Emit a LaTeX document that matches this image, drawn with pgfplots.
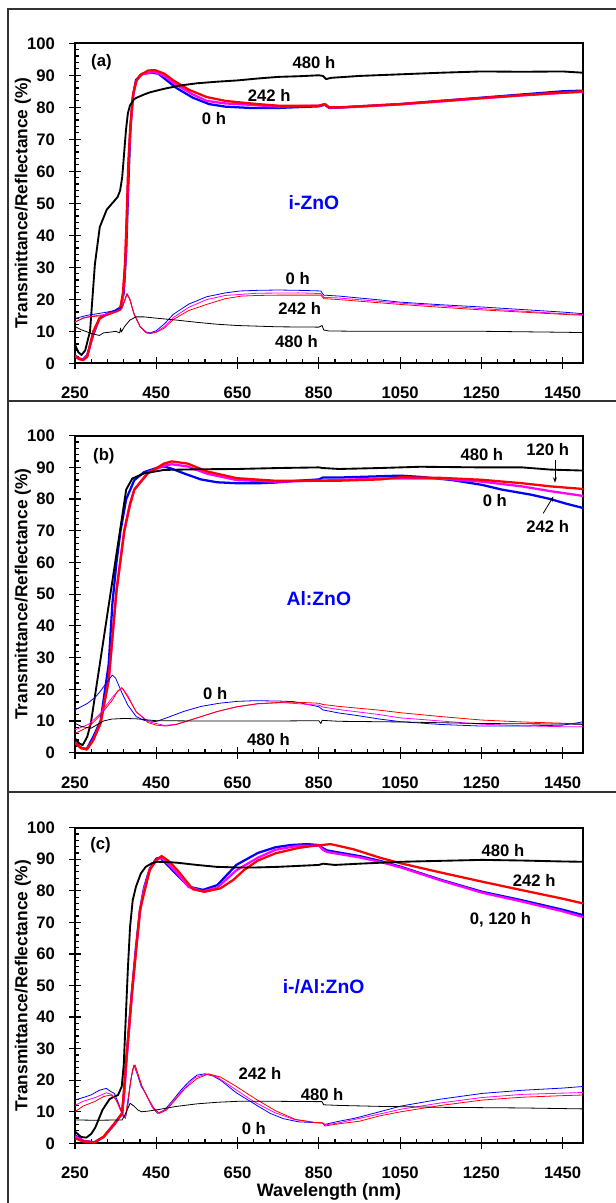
\documentclass[border=0pt]{standalone}
\usepackage{fontspec}
\setmainfont{Liberation Sans}
\usepackage{pgfplots}
\pgfplotsset{compat=1.18}
\usetikzlibrary{arrows.meta}
\definecolor{cB}{RGB}{0,0,255}
\definecolor{cM}{RGB}{255,0,255}
\definecolor{cR}{RGB}{255,0,0}
\pgfplotsset{
 panel/.style={
  scale only axis, width=381pt,
  xmin=250,xmax=1500,ymin=0,ymax=100,
  xtick={250,450,...,1450}, ytick={0,10,...,100},
  minor x tick num=4, minor y tick num=4,
  xtick pos=left, ytick pos=left,
  tick align=inside, major tick length=4.5pt, minor tick length=3pt,
  every tick/.style={black, line width=0.9pt},
  axis line style={line width=1.3pt},
  extra x ticks={250,450,650,850,1050,1250,1450}, extra x tick labels={},
  extra x tick style={tick align=outside},
  extra y ticks={0,10,20,30,40,50,60,70,80,90,100}, extra y tick labels={},
  extra y tick style={tick align=outside},
  ticklabel style={font=\bfseries\fontsize{12.5}{12.5}\selectfont},
  /pgf/number format/assume math mode=true,
  /pgf/number format/1000 sep={},
  xticklabel style={yshift=-14.5pt},
  yticklabel style={xshift=-11.5pt},
  ylabel={Transmittance/Reflectance (\%)},
  ylabel style={font=\bfseries\fontsize{13}{13}\selectfont, at={(axis description cs:-0.1024,0.5)}, anchor=center},
  every axis plot/.append style={no marks, line join=round},
 },
 Tb/.style={cB, line width=1.7pt},
 Tm/.style={cM, line width=1.7pt},
 Tr/.style={cR, line width=1.7pt},
 Tk/.style={black, line width=1.4pt},
 Rb/.style={cB, line width=0.6pt},
 Rm/.style={cM, line width=0.6pt},
 Rr/.style={cR, line width=0.6pt},
 Rk/.style={black, line width=0.6pt},
}
\tikzset{lab/.style={font=\bfseries\fontsize{12.5}{12.5}\selectfont, inner sep=0pt},
 mat/.style={font=\bfseries\fontsize{14.5}{14.5}\selectfont, text=cB, inner sep=0pt}}
\begin{document}
\begin{tikzpicture}
\useasboundingbox (0,0) rectangle (462pt,902.25pt);
\draw[black!80, line width=0.9pt] (6pt,601.5pt) rectangle (475pt,895.5pt);
\draw[black!80, line width=0.9pt] (6pt,308.25pt) rectangle (475pt,601.5pt);
\draw[black!80, line width=0.9pt] (6pt,-10pt) rectangle (475pt,308.25pt);

% ---------------- (a) ----------------
\begin{axis}[panel, height=240pt, at={(56.25pt,629.775pt)}, anchor=south west]
\addplot[Tb] coordinates {(250,2.5)(260,1.5)(270,1.2)(280,2.5)(295,9)(310,14)(330,15.5)(350,16.5)(362,17.5)(370,22)(376,35)(381,55)(386,72)(392,83)(400,88.5)(415,90.5)(440,90.8)(455,90.5)(475,88.5)(500,86)(540,83)(580,81)(620,80.2)(680,79.8)(750,79.8)(850,80.3)(865,80.8)(875,79.8)(900,79.9)(950,80.3)(1050,81)(1150,82)(1250,83)(1350,84)(1450,85)(1500,85.2)};
\addplot[Tm] coordinates {(250,2.3)(260,1.4)(270,1.1)(280,2.2)(295,9.5)(311,14.1)(328,15.2)(350,16.2)(361,16.9)(368,21)(374,32)(378,47)(382,63)(387,75)(394,84.5)(402,88.5)(415,90.3)(445,91.1)(470,89.8)(500,87)(540,84)(574,82)(620,81.2)(650,81)(750,80.2)(850,80.5)(865,81)(875,79.9)(900,79.9)(950,80.2)(1050,80.9)(1150,81.8)(1250,82.8)(1350,83.7)(1450,84.5)(1500,84.8)};
\addplot[Tr] coordinates {(250,2.2)(260,1.3)(270,1.0)(280,2)(295,10)(311,14.2)(328,15.3)(350,16.2)(361,16.8)(368,22)(373,31)(377,45)(381,62)(386,74)(393,84)(400,88)(410,90)(430,91.5)(447,91.6)(470,90.5)(492,88.4)(530,85.5)(574,83.2)(620,82)(650,81.6)(700,81)(750,80.5)(850,80.5)(865,81)(875,80)(900,80)(950,80.3)(1050,81)(1150,82)(1250,82.9)(1350,83.8)(1450,84.6)(1500,85)};
\addplot[Tk] coordinates {(250,5.8)(258,3.5)(266,2.6)(275,4)(287,10)(299,31)(311,42.6)(328,48)(345,50.5)(355,52)(361,54)(366,58)(369,62.6)(375.5,73)(380,78)(385,80.5)(395,82.5)(402,83)(420,84)(435,84.7)(470,85.8)(508,86.8)(550,87.5)(600,88)(650,88.4)(700,89)(750,89.5)(800,89.7)(850,90)(860,89.8)(868,88.8)(880,89.2)(950,89.8)(1050,90.3)(1150,90.8)(1250,91.2)(1350,91.1)(1450,91.2)(1500,90.8)};
\addplot[Rb] coordinates {(250,14)(280,15)(320,15.8)(350,16.5)(365,17.5)(372,19.5)(378,21.8)(385,20)(395,15.5)(410,11.5)(425,9.8)(435,9.5)(450,10.2)(470,12.3)(492,15.3)(530,18.5)(574,20.8)(620,22)(656,22.6)(700,22.8)(750,22.9)(800,22.8)(855,22.6)(862,21.3)(900,21)(1000,19.8)(1050,19.1)(1150,18.3)(1250,17.6)(1350,16.8)(1450,16)(1500,15.5)};
\addplot[Rm] coordinates {(250,13)(280,14.5)(320,15.2)(350,16)(365,17)(372,19.5)(378,21.6)(385,20)(395,15.5)(410,11.5)(425,9.6)(435,9.3)(450,9.8)(470,11.5)(492,14.3)(530,17.5)(574,19.9)(620,21.2)(700,21.9)(800,22)(855,21.8)(862,20.6)(900,20.4)(1050,18.8)(1250,17.1)(1450,15.5)(1500,15.2)};
\addplot[Rr] coordinates {(250,12.8)(270,14.2)(300,14.7)(330,15)(350,16)(365,17)(372,19.5)(378,21.6)(385,20)(395,15.5)(410,11.5)(425,9.5)(435,9.3)(450,9.7)(470,11)(492,13.7)(530,16.5)(574,18.4)(620,20.2)(660,21)(700,21.2)(750,21.3)(800,21.3)(855,21.3)(862,20.2)(900,19.9)(1000,18.9)(1050,18.4)(1150,17.5)(1250,16.7)(1350,16)(1450,15.3)(1500,15)};
\addplot[Rk] coordinates {(250,11.5)(265,10.5)(280,9.8)(290,9.3)(300,9.0)(310,8.7)(320,9.5)(340,9.8)(350,10)(360,9.5)(362,11)(364,9.8)(372,11.5)(385,13.5)(400,14.5)(420,14.5)(450,14.1)(500,13.5)(550,12.8)(600,12.2)(650,11.8)(700,11.6)(750,11.4)(850,11.3)(858,11.8)(862,10.4)(875,10.1)(950,10)(1050,10)(1250,10)(1450,9.7)(1500,9.6)};
\node[lab] at (axis cs:315,94.1) {(a)};
\node[lab] at (axis cs:838,94.1) {480 h};
\node[lab] at (axis cs:728,83.7) {242 h};
\node[lab] at (axis cs:592,76.6) {0 h};
\node[mat] at (axis cs:838,50.3) {i-ZnO};
\node[lab] at (axis cs:798,26.4) {0 h};
\node[lab] at (axis cs:803,17) {242 h};
\node[lab] at (axis cs:795,6.8) {480 h};
\end{axis}

% ---------------- (b) ----------------
\begin{axis}[panel, height=237.75pt, at={(56.25pt,337.725pt)}, anchor=south west]
\addplot[Tb] coordinates {(250,3.5)(265,1.5)(279,1.2)(295,5)(313,10)(333,28)(342,47)(352,60)(362,70)(376,80)(396,86)(420,88.5)(450,89.8)(469,90.3)(490,89.5)(520,88)(560,86.2)(600,85.3)(650,85)(700,85)(741,85.2)(800,85.8)(850,86.2)(860,86.8)(900,86.8)(1000,87.2)(1050,87.4)(1100,87)(1178,86)(1251,84.5)(1300,83)(1372,81.4)(1420,80)(1460,78.5)(1500,77.2)};
\addplot[Tm] coordinates {(250,3.2)(265,1.4)(279,1.1)(295,4)(313,9.5)(333,23)(352,51)(371,70)(385,78.5)(396,83)(430,88.5)(469,90.5)(488,91)(527,90.3)(575,88)(648,86)(741,85.5)(850,85.8)(1000,86.5)(1150,86.5)(1251,85.5)(1350,84)(1420,82.5)(1500,81)};
\addplot[Tr] coordinates {(250,3)(265,1.5)(279,1)(295,4)(313,9.3)(333,23)(352,51)(371.5,70)(385,78)(396,83)(430,88.2)(469,91.2)(488,91.9)(527,91.2)(575.5,88.7)(648,86.6)(741,85.8)(848,85.8)(900,85.8)(1000,86.2)(1052,86.9)(1150,86.7)(1250,86.1)(1350,85)(1421,84)(1460,83.6)(1500,83.2)};
\addplot[Tk] coordinates {(250,4.5)(260,3)(269,2.4)(280,5)(289,9.3)(300,18.6)(320,35.5)(340,52.5)(360,69.4)(376,83)(391,86.5)(420,88.1)(469,89.2)(550,89.4)(650,89.5)(750,89.8)(850,90)(860,89.8)(900,89.5)(1000,89.8)(1100,90.2)(1250,90)(1350,90)(1420,89.3)(1500,89)};
\addplot[Rb] coordinates {(250,13.5)(280,15.5)(300,17.5)(313,19.5)(330,22.5)(342,24.5)(350,23.5)(365,19)(380,15)(400.6,11.4)(420,10.2)(449,9.8)(480,11.2)(517,13)(560,14.6)(605,15.6)(650,16.2)(692,16.4)(750,16.3)(789,16.1)(850,14.5)(860,13.5)(900,12.5)(935,11.9)(1000,10.6)(1050,9.8)(1150,8.9)(1250,8.4)(1350,8.4)(1450,8.7)(1490,9.5)(1500,9.8)};
\addplot[Rm] coordinates {(250,7.2)(284,9)(310,12)(342,17.5)(365,20.6)(380,18)(400,13)(430,9.8)(470,8.6)(500,9)(546,10.8)(600,13)(650,14.5)(700,15.4)(760,15.8)(850,15)(860,14.4)(900,13.6)(1000,12)(1050,11)(1150,10)(1250,9)(1350,8.5)(1450,8.2)(1500,8.2)};
\addplot[Rr] coordinates {(250,6.1)(265,7)(284,8.2)(310,11.5)(342,16.6)(355,19.5)(366.6,20.3)(380,17.5)(400.6,12.9)(430,9.5)(450,8.7)(473.5,8.4)(500,8.9)(546,10.8)(600,13)(648,14.5)(700,15.5)(760,15.9)(800,15.9)(850,15.6)(860,15.2)(900,14.6)(1000,13.4)(1052,12.6)(1150,11.4)(1250,10.3)(1350,9.7)(1450,9.3)(1500,9)};
\addplot[Rk] coordinates {(250,9.3)(265,8.3)(289,7.7)(300,8.5)(320,10)(340,10.6)(371,10.8)(400,10.7)(449,10.1)(550,10)(650,10)(750,10)(850,10.1)(855,9.2)(858,10.2)(900,9.9)(1050,9.7)(1250,9.2)(1500,9)};
\node[lab] at (axis cs:321,93.6) {(b)};
\node[lab] at (axis cs:1251,93.9) {480 h};
\node[lab] at (axis cs:1413,95.7) {120 h};
\node[lab] at (axis cs:1283,79.7) {0 h};
\node[lab] at (axis cs:1413,71.5) {242 h};
\node[mat] at (axis cs:850,48.7) {Al:ZnO};
\node[lab] at (axis cs:595,18.7) {0 h};
\node[lab] at (axis cs:726,4.3) {480 h};
\draw[-{Stealth[length=4pt,width=3pt]}, line width=0.6pt] (axis cs:1431,92.3) -- (axis cs:1431,85.2);
\draw[-{Stealth[length=4pt,width=3pt]}, line width=0.6pt] (axis cs:1402,75.5) -- (axis cs:1427,80.8);
\end{axis}

% ---------------- (c) ----------------
\begin{axis}[panel, height=236.7pt, at={(56.25pt,44.775pt)}, anchor=south west,
  xlabel={Wavelength (nm)}, xlabel style={font=\bfseries\fontsize{13.5}{13.5}\selectfont, at={(axis description cs:0.5,-0.1553)}, anchor=center}]
\addplot[Tb] coordinates {(250,2.5)(270,0.8)(298,0.3)(320,2)(347,6)(366,9.5)(372,18)(376,26)(383,37)(390,48)(400,62)(410,74)(420,81)(434,87)(450,90.2)(460,90.5)(475,88.5)(501.6,85)(530,81.3)(565,80.3)(600,81.8)(647,88.2)(700,92)(743.5,93.8)(780,94.5)(821,94.8)(850,94.5)(860,93.5)(870,92.8)(950,91)(1000,89.5)(1052,87.6)(1150,83.5)(1251.6,79.7)(1350,77)(1450,74)(1500,72.3)};
\addplot[Tm] coordinates {(250,2.2)(270,0.7)(298,0.3)(320,2)(347,6.1)(366,9.5)(372,17)(376,25)(383,36)(390,47)(400,61)(410,73.5)(420,80.5)(434,86.8)(450,89.8)(462,90.5)(478,88.7)(501.6,85.5)(530,81.2)(565,79.8)(600,81)(647,86.5)(700,90.5)(743.5,93)(800,94.3)(850,94.3)(860,93)(870,92.3)(950,90.6)(1000,89.2)(1052,87.4)(1150,83.3)(1251.6,79.4)(1350,76.6)(1450,73.5)(1500,71.7)};
\addplot[Tr] coordinates {(250,1.6)(270,0.6)(298,0.3)(320,2)(347,6.3)(366,9.5)(376,26.4)(390,47.5)(410,74)(434,86.6)(450,89.8)(463,91)(480,89.5)(501.6,86.6)(540,80.5)(569,79.7)(608,80.8)(640,83.5)(666,86.6)(700,89.6)(743.5,91.9)(800,93.6)(840,94.3)(879,94.8)(900,94.2)(937,93.1)(1000,90.5)(1052,88.7)(1150,85.8)(1251.6,82.9)(1350,80.2)(1450,77.5)(1500,76)};
\addplot[Tk] coordinates {(250,3.7)(265,2)(278,1.8)(290,3)(300,5)(317.7,10.6)(335,14)(346.8,14.8)(356,15.3)(365,18)(370,25)(374,37)(380,55)(385.5,68.6)(392,77)(400,81.3)(412,85.5)(424,87.6)(440,88.8)(453,89.2)(480,89.1)(501.6,88.9)(550,88.2)(598,87.6)(650,87.4)(695,87.4)(750,87.6)(800,87.9)(850,88.2)(860,88.6)(889,88.2)(950,88.6)(1052,89.2)(1150,89.5)(1251.6,89.8)(1350,89.6)(1450,89.3)(1500,89.2)};
\addplot[Rb] coordinates {(250,13.7)(270,14.5)(289,15.3)(310,16.8)(327,17.4)(337,16.5)(347,15.8)(356,13)(366,9.5)(374,7.9)(380,12)(387,20)(395,24.8)(403,22)(413,18)(424,15.8)(440,11.5)(453,9.5)(470,10.5)(490,13.5)(511,16.9)(530,19.5)(550,21.6)(569,22)(590,21.3)(608,20)(647,16)(695,12.2)(730,9.5)(763,7.8)(800,6.8)(850,6.5)(860,6.4)(865,6.0)(900,7.0)(937,7.9)(1000,10)(1052,11.8)(1150,14)(1251.6,15.8)(1350,16.8)(1450,17.5)(1500,18)};
\addplot[Rm] coordinates {(250,12)(270,13.3)(300,14.5)(327,16)(340,15.5)(350,14)(360,11)(368,8.5)(374,8.2)(382,15)(390,22)(396,24.8)(404,22)(415,18)(428,14.5)(442,11)(456,9.5)(472,10.5)(492,13.5)(516,17)(545,20.8)(574,22)(600,21)(640,17.5)(690,13.2)(740,9.8)(790,7.5)(840,6.6)(860,6.4)(865,5.8)(900,6.5)(1000,9.3)(1052,10.8)(1150,12.8)(1251.6,14.5)(1350,15.5)(1450,15.9)(1500,16.1)};
\addplot[Rr] coordinates {(250,10)(270,11.8)(298,13.2)(320,14.8)(337,15.3)(347,14.5)(356,12.7)(366,9.5)(371,8.2)(376,10)(385,18)(392,23.5)(398,24.8)(405,22)(415,18)(430,14.2)(445,11)(458,9.5)(475,10.5)(495,13.5)(521,17.4)(550,20.5)(579,22)(608,21)(647,18)(695,14)(743.5,10.3)(792,7.6)(840,6.6)(858,6.5)(865,5.5)(900,6.2)(950,7)(1000,8.7)(1052,10)(1150,12)(1251.6,13.7)(1350,14.6)(1450,15.1)(1500,15.3)};
\addplot[Rk] coordinates {(250,7.4)(300,7.3)(366,7.4)(375,9.5)(385.5,12.7)(395,11.8)(405,10.5)(414,10)(430,10.2)(460,10.8)(500,11.7)(550,12.5)(600,13)(650,13.3)(700,13.3)(750,13.3)(850,13.2)(858,13.2)(862,12.2)(900,12)(1000,11.7)(1052,11.6)(1150,11.4)(1250,11.3)(1350,11.2)(1500,10.9)};
\node[lab] at (axis cs:313,94.5) {(c)};
\node[lab] at (axis cs:1303,92.7) {480 h};
\node[lab] at (axis cs:1380,83.2) {242 h};
\node[lab] at (axis cs:1297,70.7) {0, 120 h};
\node[mat] at (axis cs:861.6,49.6) {i-/Al:ZnO};
\node[lab] at (axis cs:705,22) {242 h};
\node[lab] at (axis cs:858,15.6) {480 h};
\node[lab] at (axis cs:690,4.8) {0 h};
\end{axis}
\end{tikzpicture}
\end{document}
